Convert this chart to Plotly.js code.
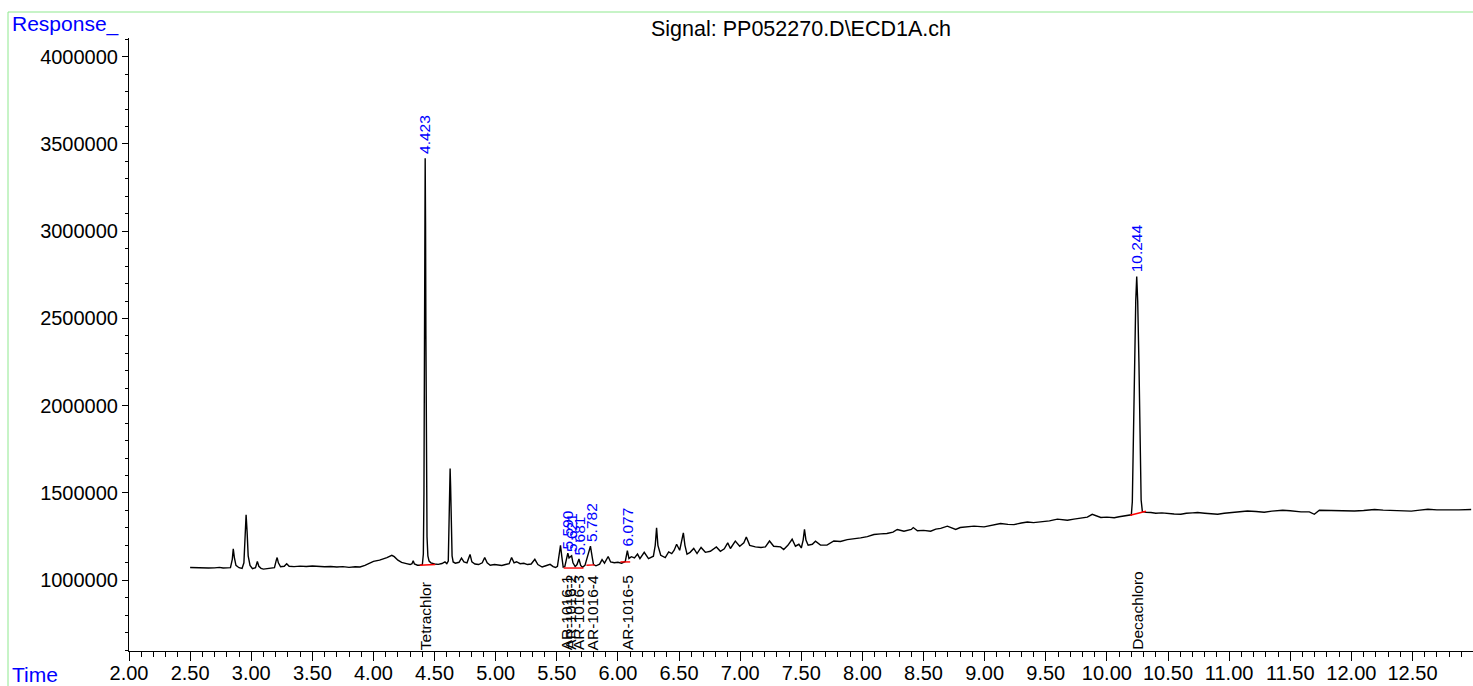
<!DOCTYPE html>
<html>
<head>
<meta charset="utf-8">
<script src="https://cdn.plot.ly/plotly-3.0.1.min.js"></script>
<style>
  html, body { margin: 0; padding: 0; background: #ffffff; }
  #chart { width: 1473px; height: 686px; }
</style>
</head>
<body>
<div id="chart"></div>
<script>
// Chromatogram trace: retention time (min) and detector response
const retentionTime = [
  2.50, 2.55, 2.60, 2.65, 2.70, 2.74, 2.77, 2.80, 2.83, 2.845,
  2.853, 2.862, 2.875, 2.90, 2.925, 2.94, 2.95, 2.958, 2.966, 2.975,
  2.99, 3.01, 3.035, 3.05, 3.062, 3.08, 3.10, 3.13, 3.15, 3.19,
  3.205, 3.212, 3.222, 3.24, 3.27, 3.29, 3.31, 3.35, 3.40, 3.45,
  3.50, 3.55, 3.60, 3.65, 3.70, 3.75, 3.80, 3.85, 3.89, 3.93,
  3.97, 4.00, 4.05, 4.08, 4.11, 4.15, 4.17, 4.20, 4.23, 4.27,
  4.30, 4.315, 4.325, 4.335, 4.36, 4.38, 4.40, 4.408, 4.413, 4.417,
  4.420, 4.423, 4.426, 4.429, 4.433, 4.438, 4.445, 4.455, 4.47, 4.50,
  4.53, 4.56, 4.585, 4.60, 4.612, 4.618, 4.623, 4.627, 4.631, 4.636,
  4.643, 4.652, 4.67, 4.70, 4.72, 4.74, 4.765, 4.79, 4.805, 4.83,
  4.86, 4.89, 4.91, 4.93, 4.955, 4.99, 5.02, 5.05, 5.08, 5.11,
  5.13, 5.15, 5.17, 5.20, 5.23, 5.26, 5.29, 5.32, 5.345, 5.38,
  5.41, 5.445, 5.47, 5.49, 5.505, 5.518, 5.530, 5.540, 5.552, 5.565,
  5.580, 5.590, 5.600, 5.612, 5.621, 5.632, 5.65, 5.665, 5.681, 5.695,
  5.71, 5.73, 5.755, 5.775, 5.79, 5.80, 5.82, 5.85, 5.87, 5.89,
  5.92, 5.94, 5.97, 6.00, 6.03, 6.06, 6.077, 6.09, 6.11, 6.135,
  6.16, 6.18, 6.215, 6.25, 6.29, 6.305, 6.316, 6.327, 6.35, 6.387,
  6.415, 6.44, 6.46, 6.48, 6.505, 6.522, 6.535, 6.548, 6.565, 6.59,
  6.62, 6.647, 6.68, 6.715, 6.756, 6.805, 6.838, 6.87, 6.898, 6.92,
  6.96, 6.996, 7.03, 7.05, 7.078, 7.124, 7.17, 7.206, 7.24, 7.274,
  7.33, 7.356, 7.39, 7.425, 7.452, 7.48, 7.50, 7.515, 7.526, 7.538,
  7.556, 7.59, 7.616, 7.657, 7.71, 7.766, 7.82, 7.876, 7.93, 7.985,
  8.04, 8.094, 8.15, 8.20, 8.25, 8.285, 8.34, 8.40, 8.416, 8.45,
  8.50, 8.558, 8.60, 8.64, 8.695, 8.73, 8.763, 8.80, 8.86, 8.913,
  8.995, 9.06, 9.13, 9.19, 9.24, 9.30, 9.35, 9.40, 9.46, 9.53,
  9.595, 9.677, 9.73, 9.786, 9.84, 9.88, 9.92, 9.95, 10.00, 10.06,
  10.10, 10.15, 10.18, 10.200, 10.208, 10.216, 10.226, 10.236, 10.244, 10.252,
  10.262, 10.272, 10.280, 10.290, 10.32, 10.36, 10.40, 10.45, 10.50, 10.55,
  10.605, 10.65, 10.70, 10.742, 10.80, 10.85, 10.906, 10.96, 11.04, 11.10,
  11.15, 11.22, 11.287, 11.35, 11.438, 11.50, 11.588, 11.656, 11.697, 11.738,
  11.80, 11.86, 11.94, 12.025, 12.10, 12.19, 12.26, 12.325, 12.40, 12.49,
  12.56, 12.626, 12.70, 12.79, 12.88, 12.98
];
const response = [
  1073000, 1071000, 1072000, 1070000, 1071000, 1074000, 1070000, 1069000, 1072000, 1120000,
  1180000, 1130000, 1085000, 1072000, 1068000, 1100000, 1290000, 1375000, 1280000, 1140000,
  1085000, 1066000, 1072000, 1108000, 1080000, 1068000, 1064000, 1066000, 1070000, 1072000,
  1115000, 1130000, 1100000, 1077000, 1080000, 1095000, 1080000, 1078000, 1081000, 1079000,
  1082000, 1079000, 1077000, 1079000, 1076000, 1078000, 1074000, 1077000, 1076000, 1085000,
  1100000, 1108000, 1115000, 1122000, 1130000, 1143000, 1135000, 1115000, 1102000, 1095000,
  1090000, 1095000, 1112000, 1093000, 1086000, 1086000, 1090000, 1150000, 1500000, 2300000,
  3000000, 3418000, 3050000, 2400000, 1600000, 1250000, 1140000, 1110000, 1100000, 1093000,
  1091000, 1096000, 1105000, 1095000, 1110000, 1300000, 1560000, 1640000, 1540000, 1300000,
  1140000, 1105000, 1098000, 1103000, 1127000, 1105000, 1100000, 1148000, 1105000, 1093000,
  1090000, 1100000, 1130000, 1100000, 1086000, 1090000, 1087000, 1085000, 1090000, 1095000,
  1130000, 1100000, 1106000, 1095000, 1097000, 1090000, 1093000, 1120000, 1090000, 1076000,
  1083000, 1091000, 1078000, 1073000, 1080000, 1150000, 1200000, 1140000, 1075000, 1078000,
  1120000, 1155000, 1128000, 1135000, 1140000, 1100000, 1078000, 1090000, 1122000, 1085000,
  1074000, 1085000, 1150000, 1195000, 1130000, 1090000, 1083000, 1092000, 1118000, 1098000,
  1136000, 1105000, 1100000, 1103000, 1098000, 1108000, 1170000, 1125000, 1135000, 1128000,
  1150000, 1124000, 1160000, 1124000, 1138000, 1200000, 1300000, 1200000, 1143000, 1130000,
  1162000, 1153000, 1172000, 1206000, 1172000, 1220000, 1271000, 1200000, 1149000, 1160000,
  1182000, 1153000, 1188000, 1160000, 1166000, 1191000, 1166000, 1180000, 1214000, 1182000,
  1224000, 1195000, 1215000, 1248000, 1200000, 1191000, 1188000, 1191000, 1225000, 1195000,
  1191000, 1176000, 1200000, 1235000, 1195000, 1206000, 1185000, 1230000, 1292000, 1230000,
  1201000, 1206000, 1224000, 1201000, 1201000, 1225000, 1222000, 1233000, 1236000, 1243000,
  1250000, 1262000, 1266000, 1268000, 1276000, 1291000, 1281000, 1291000, 1302000, 1284000,
  1286000, 1281000, 1293000, 1297000, 1310000, 1300000, 1291000, 1302000, 1305000, 1310000,
  1306000, 1315000, 1325000, 1320000, 1319000, 1328000, 1334000, 1330000, 1334000, 1340000,
  1350000, 1344000, 1350000, 1357000, 1362000, 1378000, 1366000, 1360000, 1362000, 1358000,
  1364000, 1368000, 1372000, 1375000, 1450000, 1800000, 2250000, 2600000, 2740000, 2600000,
  2250000, 1800000, 1460000, 1395000, 1390000, 1388000, 1384000, 1386000, 1382000, 1380000,
  1378000, 1384000, 1386000, 1388000, 1384000, 1382000, 1378000, 1384000, 1390000, 1392000,
  1397000, 1394000, 1390000, 1396000, 1401000, 1398000, 1392000, 1392000, 1378000, 1401000,
  1400000, 1401000, 1398000, 1397000, 1400000, 1405000, 1402000, 1401000, 1398000, 1396000,
  1402000, 1407000, 1403000, 1401000, 1403000, 1405000
];

// Integrated peak labels (retention times shown in blue above the peaks)
const peakRT     = [4.423, 5.590, 5.621, 5.681, 5.782, 6.077, 10.244];
const peakLabels = ["4.423", "5.590", "5.621", "5.681", "5.782", "6.077", "10.244"];
const peakApex   = [3418000, 1155000, 1140000, 1122000, 1195000, 1170000, 2740000];

// Compound names (black, under the baseline)
const compoundNames = ["Tetrachlor", "AR-1016-1", "AR-1016-2", "AR-1016-3", "AR-1016-4", "AR-1016-5", "Decachloro"];
const compoundRT    = [4.423, 5.582, 5.609, 5.677, 5.795, 6.079, 10.244];

// Integration baselines (red)
const intStartT = [4.378, 5.556, 5.742, 6.020, 10.190];
const intStartR = [1086000, 1070000, 1086000, 1105000, 1372700];
const intEndT   = [4.505, 5.718, 5.810, 6.100, 10.320];
const intEndR   = [1090000, 1070000, 1088000, 1105000, 1395600];

const FONT = "Liberation Sans, Arial, sans-serif";

const bx = [], by = [];
for (let i = 0; i < intStartT.length; i++) {
  bx.push(intStartT[i], intEndT[i], null);
  by.push(intStartR[i], intEndR[i], null);
}

const traces = [
  {
    x: retentionTime, y: response, type: "scatter", mode: "lines",
    line: { color: "#000000", width: 1.4 }, hoverinfo: "skip"
  },
  {
    x: bx, y: by, type: "scatter", mode: "lines",
    line: { color: "#ff0000", width: 1.4 }, hoverinfo: "skip", connectgaps: false
  }
];

const annotations = [];
for (let i = 0; i < peakRT.length; i++) {
  annotations.push({
    x: peakRT[i], y: peakApex[i], xref: "x", yref: "y",
    text: peakLabels[i], textangle: -90, showarrow: false,
    xanchor: "center", yanchor: "bottom", yshift: 2,
    font: { family: FONT, size: 15.5, color: "#0000ff" }
  });
}
for (let i = 0; i < compoundNames.length; i++) {
  annotations.push({
    x: compoundRT[i], y: 0, xref: "x", yref: "paper",
    text: compoundNames[i], textangle: -90, showarrow: false,
    xanchor: "center", yanchor: "bottom", yshift: -1,
    font: { family: FONT, size: 15.5, color: "#000000" }
  });
}
annotations.push({
  x: (10 - 129) / 1344, y: (651 - 24) / 613, xref: "paper", yref: "paper",
  text: "Response_", showarrow: false, xanchor: "left", yanchor: "middle",
  font: { family: FONT, size: 21, color: "#0000ff" }
});
annotations.push({
  x: (10 - 129) / 1344, y: (651 - 674) / 613, xref: "paper", yref: "paper",
  text: "Time", showarrow: false, xanchor: "left", yanchor: "middle",
  font: { family: FONT, size: 21, color: "#0000ff" }
});

const GREEN = "#8fe88f";
const shapes = [
  { type: "line", xref: "paper", yref: "paper",
    x0: (8 - 129) / 1344, x1: 1.05, y0: (651 - 12) / 613, y1: (651 - 12) / 613,
    line: { color: GREEN, width: 1 } },
  { type: "line", xref: "paper", yref: "paper",
    x0: (8 - 129) / 1344, x1: (8 - 129) / 1344, y0: (651 - 12) / 613, y1: -0.1,
    line: { color: GREEN, width: 1 } }
];

const layout = {
  width: 1473, height: 686,
  margin: { l: 129, r: 0, t: 38, b: 35, pad: 0 },
  paper_bgcolor: "#ffffff", plot_bgcolor: "#ffffff",
  showlegend: false,
  font: { family: FONT, color: "#000000" },
  title: {
    text: "Signal: PP052270.D\\ECD1A.ch",
    font: { family: FONT, size: 21.5, color: "#000000" },
    x: 0.5, xref: "paper", xanchor: "center",
    y: 1 - 28 / 686, yref: "container", yanchor: "middle"
  },
  xaxis: {
    range: [2.0, 12.995], tick0: 2, dtick: 0.5, tickformat: ".2f",
    ticks: "outside", ticklen: 9, tickwidth: 1, tickcolor: "#000000",
    ticklabelstandoff: -5,
    showline: true, linecolor: "#000000", linewidth: 1,
    showgrid: false, zeroline: false,
    tickfont: { family: FONT, size: 20, color: "#000000" },
    minor: { dtick: 0.1, ticks: "outside", ticklen: 5, tickcolor: "#000000", tickwidth: 1, showgrid: false },
    fixedrange: true
  },
  yaxis: {
    range: [594600, 4107200], tick0: 0, dtick: 500000, tickformat: "d",
    ticks: "outside", ticklen: 6, tickwidth: 1, tickcolor: "#000000",
    showline: true, linecolor: "#000000", linewidth: 1,
    showgrid: false, zeroline: false,
    tickfont: { family: FONT, size: 20, color: "#000000" },
    minor: { dtick: 100000, ticks: "outside", ticklen: 3, tickcolor: "#000000", tickwidth: 1, showgrid: false },
    fixedrange: true
  },
  annotations: annotations,
  shapes: shapes
};

Plotly.newPlot("chart", traces, layout, { displayModeBar: false, staticPlot: true });
</script>
</body>
</html>
